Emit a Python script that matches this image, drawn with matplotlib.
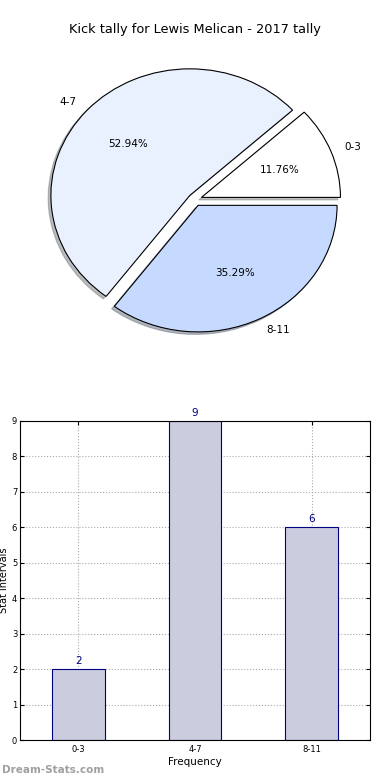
import numpy as np
import matplotlib.pyplot as plt

categories = ["0-3", "4-7", "8-11"]
counts = [2, 9, 6]
pie_colors = ["#ffffff", "#eaf1fe", "#c6d9fe"]

fig = plt.figure(figsize=(3.9, 7.8), dpi=100)

# pie on top
ax1 = fig.add_axes([0.108, 0.5655, 0.784, 0.357])
ax1.pie(counts, labels=categories, colors=pie_colors, explode=[0.05] * 3,
        autopct="%.2f%%",
        shadow={"ox": -0.014, "oy": -0.014, "shade": 0.5},
        wedgeprops={"edgecolor": "black", "linewidth": 0.8},
        textprops={"fontsize": 7.5})
ax1.set_aspect("auto")
ax1.set_xlim(-1.1, 1.1)
ax1.set_ylim(-1.1, 1.1)
fig.text(0.5, 1 - 30 / 780, "Kick tally for Lewis Melican - 2017 tally",
         ha="center", va="center", fontsize=9.3)

# bar chart below
ax2 = fig.add_axes([20 / 390, 40 / 780, 350 / 390, 319 / 780])
x = np.arange(len(categories))
ax2.bar(x, counts, width=0.45, color="#ccccdf", edgecolor="#000080",
        linewidth=0.8, zorder=2)
for xi, c in zip(x, counts):
    ax2.text(xi, c + 0.08, str(c), ha="center", va="bottom",
             color="#000080", fontsize=7.5)
ax2.set_xlim(-0.5, 2.5)
ax2.set_ylim(0, 9)
ax2.set_xticks(x)
ax2.set_xticklabels(categories)
ax2.set_yticks(range(10))
ax2.tick_params(direction="in", top=True, right=True, labelsize=6, length=3)
ax2.tick_params(axis="y", pad=2)
ax2.grid(True, linestyle=":", color="#aaaaaa", linewidth=0.8, zorder=0)
ax2.set_axisbelow(True)
ax2.set_xlabel("Frequency", fontsize=7.5, labelpad=2)
ax2.set_ylabel("Stat intervals", fontsize=7)
ax2.yaxis.set_label_coords(-0.031, 0.5)

fig.text(2 / 390, 1 - 770 / 780, "Dream-Stats.com", color="#a0a0a0",
         fontsize=7.5, fontweight="bold", ha="left", va="center")

plt.savefig("out.png", dpi=100)
